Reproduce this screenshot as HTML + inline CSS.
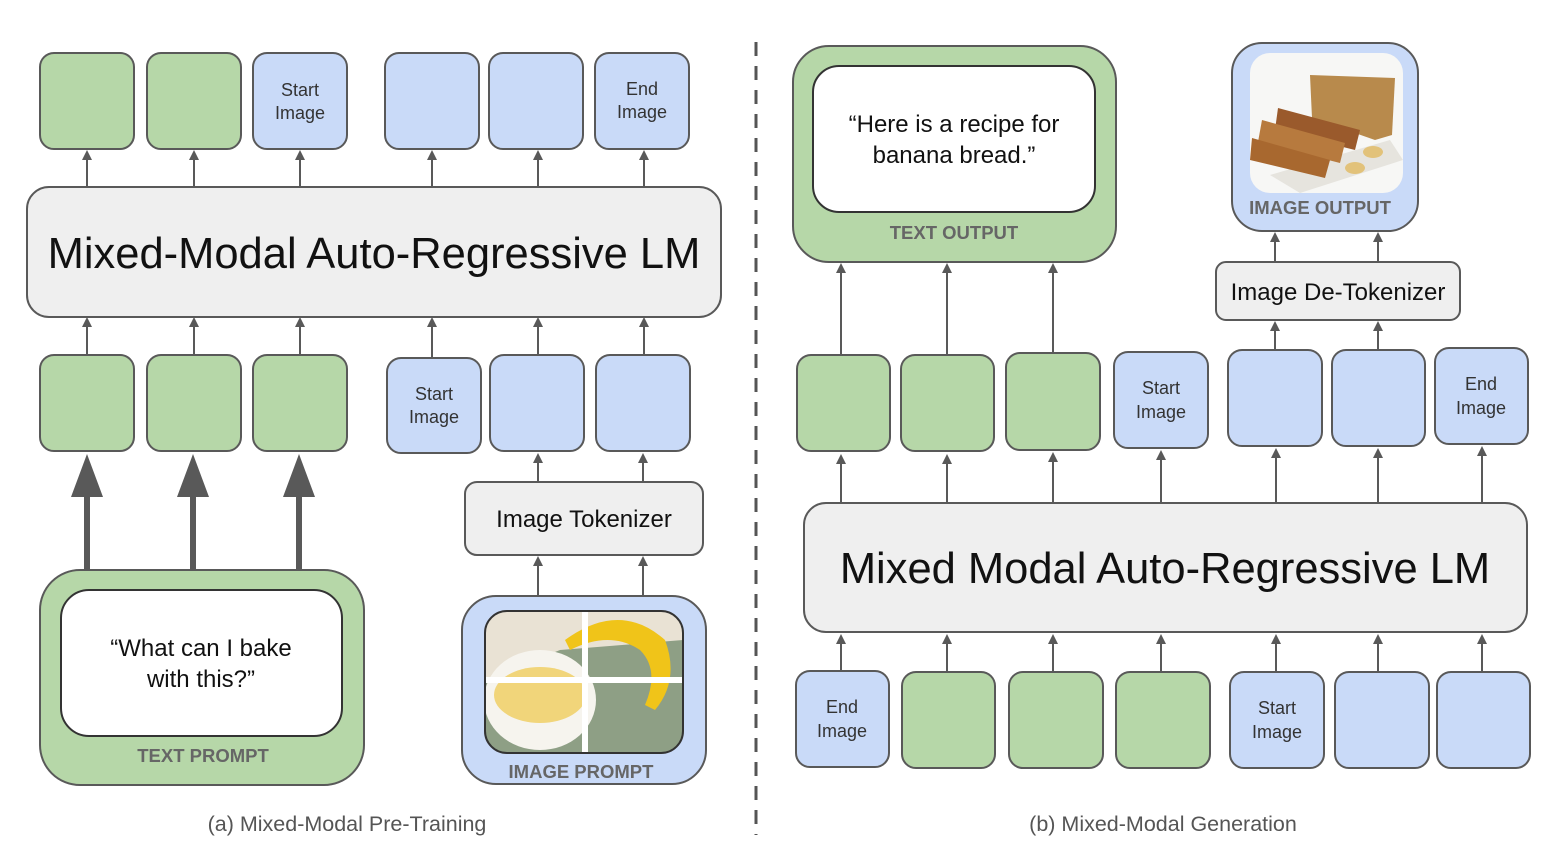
<!DOCTYPE html>
<html><head><meta charset="utf-8"><style>
html,body{margin:0;padding:0;background:#fff;}
svg{display:block;font-family:"Liberation Sans",Arial,sans-serif;}
</style></head><body>
<svg width="1560" height="852" viewBox="0 0 1560 852" xmlns="http://www.w3.org/2000/svg">
<defs>
<clipPath id="c1"><rect x="485" y="611" width="198" height="142" rx="22"/></clipPath>
<clipPath id="c2"><rect x="1250" y="53" width="153" height="140" rx="20"/></clipPath>
</defs>
<style>
.g{fill:#b6d7a8;stroke:#595959;stroke-width:2}
.b{fill:#c9daf8;stroke:#595959;stroke-width:2}
.w{fill:#efefef;stroke:#595959;stroke-width:2}
.ln{stroke:#595959;stroke-width:2;fill:none}
.t{font-size:18px;fill:#333;text-anchor:middle}
.lab{font-size:18.5px;font-weight:bold;fill:#666;text-anchor:middle}
.cap{font-size:21.5px;fill:#555;text-anchor:middle}
</style>

<g fill="#595959">
<g class="ln"><path d="M87 187V158M194 187V158M300 187V158M432 187V158M538 187V158M644 187V158"/>
<path d="M87 355V325M194 355V325M300 355V325M432 358V325M538 355V325M644 355V325"/>
<path d="M538 482V461M643 482V461M538 597V564M643 597V564"/>
<path d="M841 355V271M947 355V271M1053 353V271M1275 262V240M1378 262V240M1275 350V329M1378 350V329"/>
<path d="M841 503V462M947 503V462M1053 503V460M1161 503V458M1276 503V456M1378 503V456M1482 503V454"/>
<path d="M841 671V642M947 671V642M1053 671V642M1161 671V642M1276 671V642M1378 671V642M1482 671V642"/>
</g>
<path d="M82 160L87 150L92 160ZM189 160L194 150L199 160ZM295 160L300 150L305 160ZM427 160L432 150L437 160ZM533 160L538 150L543 160ZM639 160L644 150L649 160Z"/>
<path d="M82 327L87 317L92 327ZM189 327L194 317L199 327ZM295 327L300 317L305 327ZM427 327L432 317L437 327ZM533 327L538 317L543 327ZM639 327L644 317L649 327Z"/>
<path d="M533 463L538 453L543 463ZM638 463L643 453L648 463ZM533 566L538 556L543 566ZM638 566L643 556L648 566Z"/>
<path d="M836 273L841 263L846 273ZM942 273L947 263L952 273ZM1048 273L1053 263L1058 273ZM1270 242L1275 232L1280 242ZM1373 242L1378 232L1383 242ZM1270 331L1275 321L1280 331ZM1373 331L1378 321L1383 331Z"/>
<path d="M836 464L841 454L846 464ZM942 464L947 454L952 464ZM1048 462L1053 452L1058 462ZM1156 460L1161 450L1166 460ZM1271 458L1276 448L1281 458ZM1373 458L1378 448L1383 458ZM1477 456L1482 446L1487 456Z"/>
<path d="M836 644L841 634L846 644ZM942 644L947 634L952 644ZM1048 644L1053 634L1058 644ZM1156 644L1161 634L1166 644ZM1271 644L1276 634L1281 644ZM1373 644L1378 634L1383 644ZM1477 644L1482 634L1487 644Z"/>
<path d="M84 570V494h6v76ZM190 570V494h6v76ZM296 570V494h6v76Z"/>
<path d="M71 497L87 454L103 497ZM177 497L193 454L209 497ZM283 497L299 454L315 497Z"/>
</g>

<rect class="g" x="40" y="53" width="94" height="96" rx="14"/>
<rect class="g" x="147" y="53" width="94" height="96" rx="14"/>
<rect class="b" x="253" y="53" width="94" height="96" rx="14"/>
<text class="t" x="300" y="96">Start</text><text class="t" x="300" y="119">Image</text>
<rect class="b" x="385" y="53" width="94" height="96" rx="14"/>
<rect class="b" x="489" y="53" width="94" height="96" rx="14"/>
<rect class="b" x="595" y="53" width="94" height="96" rx="14"/>
<text class="t" x="642" y="95">End</text><text class="t" x="642" y="118">Image</text>

<rect class="w" x="27" y="187" width="694" height="130" rx="22"/>
<text x="374" y="268" font-size="43.5" text-anchor="middle" fill="#111">Mixed-Modal Auto-Regressive LM</text>

<rect class="g" x="40" y="355" width="94" height="96" rx="14"/>
<rect class="g" x="147" y="355" width="94" height="96" rx="14"/>
<rect class="g" x="253" y="355" width="94" height="96" rx="14"/>
<rect class="b" x="387" y="358" width="94" height="95" rx="14"/>
<text class="t" x="434" y="400">Start</text><text class="t" x="434" y="423">Image</text>
<rect class="b" x="490" y="355" width="94" height="96" rx="14"/>
<rect class="b" x="596" y="355" width="94" height="96" rx="14"/>

<rect class="w" x="465" y="482" width="238" height="73" rx="12"/>
<text x="584" y="527" font-size="24" text-anchor="middle" fill="#111">Image Tokenizer</text>

<rect class="g" x="40" y="570" width="324" height="215" rx="40"/>
<rect x="61" y="590" width="281" height="146" rx="28" fill="#fff" stroke="#333" stroke-width="2"/>
<text x="201" y="656" font-size="24" text-anchor="middle" fill="#111">“What can I bake</text>
<text x="201" y="687" font-size="24" text-anchor="middle" fill="#111">with this?”</text>
<text class="lab" x="203" y="762">TEXT PROMPT</text>

<rect class="b" x="462" y="596" width="244" height="188" rx="34"/>
<g clip-path="url(#c1)">
<rect x="485" y="611" width="198" height="142" fill="#e9e2d4"/>
<path d="M485 680L560 650L683 640V753H485Z" fill="#8e9f85"/>
<ellipse cx="540" cy="700" rx="56" ry="50" fill="#f6f4ee"/>
<ellipse cx="540" cy="695" rx="46" ry="28" fill="#f1d57a"/>
<path d="M565 640Q620 600 665 640Q680 680 655 710L645 705Q660 670 640 650Q610 630 570 650Z" fill="#f0c419"/>
<rect x="582" y="611" width="6" height="142" fill="#fff"/>
<rect x="485" y="677" width="198" height="6" fill="#fff"/>
</g>
<rect x="485" y="611" width="198" height="142" rx="22" fill="none" stroke="#333" stroke-width="2"/>
<text class="lab" x="581" y="778">IMAGE PROMPT</text>

<text class="cap" x="347" y="831">(a) Mixed-Modal Pre-Training</text>

<line x1="756" y1="42" x2="756" y2="835" stroke="#555" stroke-width="3" stroke-dasharray="14,10"/>

<rect class="g" x="793" y="46" width="323" height="216" rx="36"/>
<rect x="813" y="66" width="282" height="146" rx="26" fill="#fff" stroke="#333" stroke-width="2"/>
<text x="954" y="132" font-size="24" text-anchor="middle" fill="#111">“Here is a recipe for</text>
<text x="954" y="163" font-size="24" text-anchor="middle" fill="#111">banana bread.”</text>
<text class="lab" x="954" y="239">TEXT OUTPUT</text>

<rect class="b" x="1232" y="43" width="186" height="188" rx="30"/>
<g clip-path="url(#c2)">
<rect x="1250" y="53" width="153" height="140" fill="#f7f7f5"/>
<path d="M1270 175L1390 140L1403 160L1300 193Z" fill="#e6e4de"/>
<path d="M1310 75L1395 78L1392 135L1375 140L1312 118Z" fill="#b88a4c"/>
<path d="M1278 108L1360 130L1355 150L1275 130Z" fill="#9a5a2c"/>
<path d="M1262 120L1345 143L1340 163L1258 142Z" fill="#b77a3e"/>
<path d="M1252 138L1330 160L1325 178L1250 160Z" fill="#a8682f"/>
<ellipse cx="1373" cy="152" rx="10" ry="6" fill="#e2c27a"/>
<ellipse cx="1355" cy="168" rx="10" ry="6" fill="#e2c27a"/>
</g>
<text class="lab" x="1320" y="214">IMAGE OUTPUT</text>

<rect class="w" x="1216" y="262" width="244" height="58" rx="10"/>
<text x="1338" y="300" font-size="24" text-anchor="middle" fill="#111">Image De-Tokenizer</text>

<rect class="g" x="797" y="355" width="93" height="96" rx="14"/>
<rect class="g" x="901" y="355" width="93" height="96" rx="14"/>
<rect class="g" x="1006" y="353" width="94" height="97" rx="14"/>
<rect class="b" x="1114" y="352" width="94" height="96" rx="14"/>
<text class="t" x="1161" y="394">Start</text><text class="t" x="1161" y="418">Image</text>
<rect class="b" x="1228" y="350" width="94" height="96" rx="14"/>
<rect class="b" x="1332" y="350" width="93" height="96" rx="14"/>
<rect class="b" x="1435" y="348" width="93" height="96" rx="14"/>
<text class="t" x="1481" y="390">End</text><text class="t" x="1481" y="414">Image</text>

<rect class="w" x="804" y="503" width="723" height="129" rx="22"/>
<text x="1165" y="583" font-size="43.5" text-anchor="middle" fill="#111">Mixed Modal Auto-Regressive LM</text>

<rect class="b" x="796" y="671" width="93" height="96" rx="14"/>
<text class="t" x="842" y="713">End</text><text class="t" x="842" y="737">Image</text>
<rect class="g" x="902" y="672" width="93" height="96" rx="14"/>
<rect class="g" x="1009" y="672" width="94" height="96" rx="14"/>
<rect class="g" x="1116" y="672" width="94" height="96" rx="14"/>
<rect class="b" x="1230" y="672" width="94" height="96" rx="14"/>
<text class="t" x="1277" y="714">Start</text><text class="t" x="1277" y="738">Image</text>
<rect class="b" x="1335" y="672" width="94" height="96" rx="14"/>
<rect class="b" x="1437" y="672" width="93" height="96" rx="14"/>

<text class="cap" x="1163" y="831">(b) Mixed-Modal Generation</text>
</svg>
</body></html>
